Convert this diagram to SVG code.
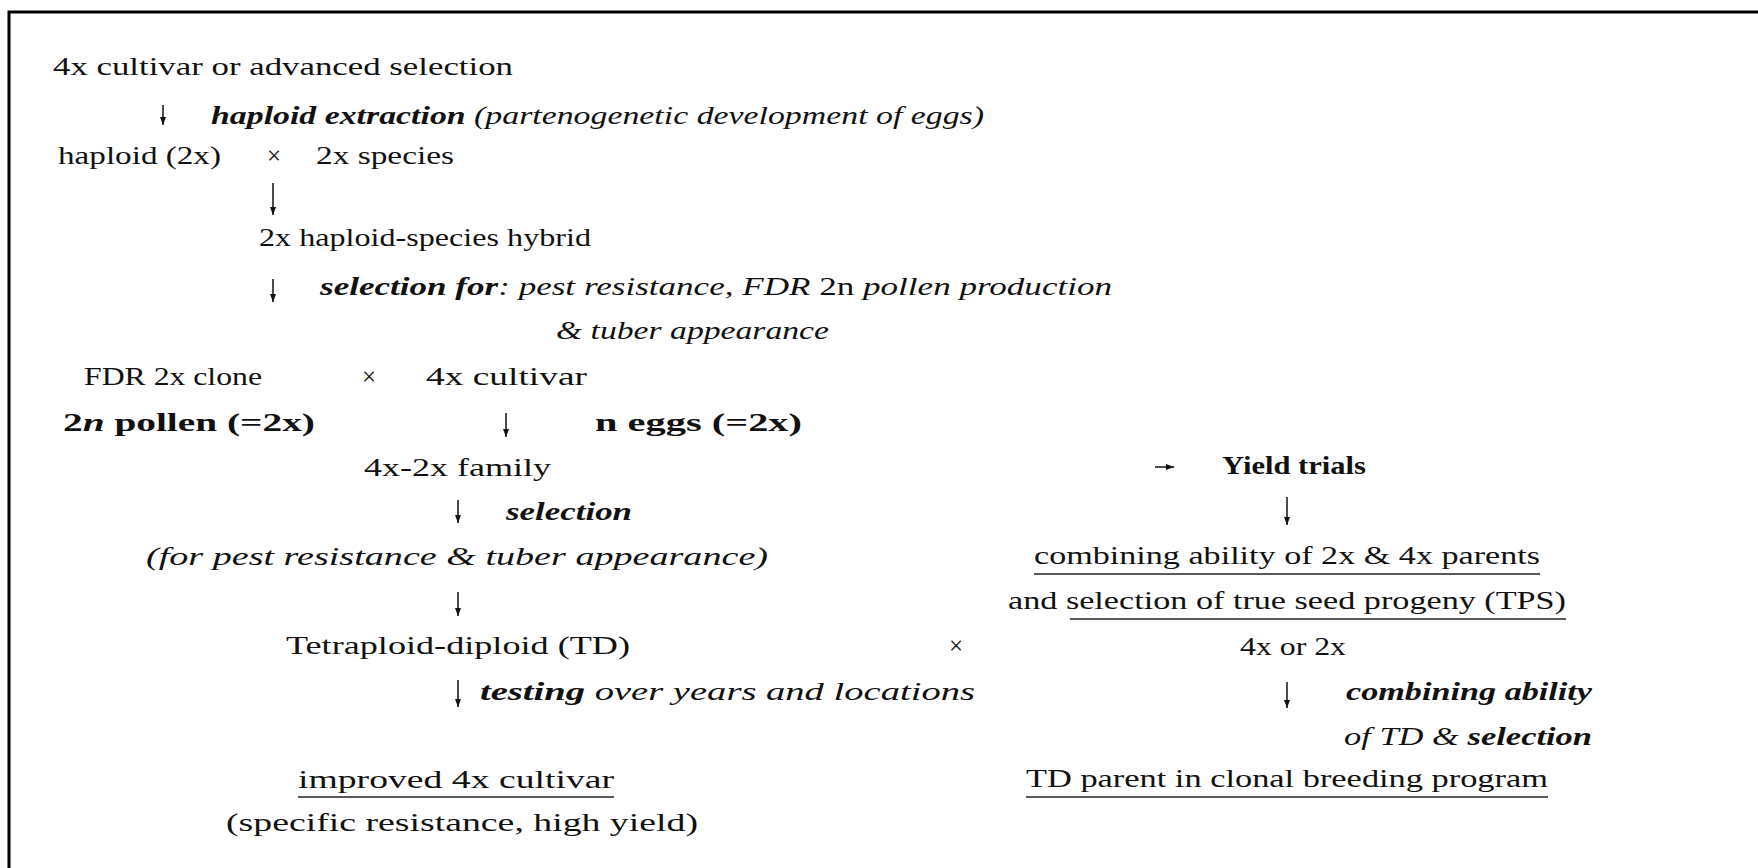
<svg xmlns="http://www.w3.org/2000/svg" width="1758" height="868" viewBox="0 0 1758 868">
<style>
text{font-family:"Liberation Serif","DejaVu Serif",serif;font-size:25px;fill:#111}
.b{font-weight:bold}
.i{font-style:italic}
.bi{font-weight:bold;font-style:italic}
.ul{stroke:#222;stroke-width:1.6}
.ar{stroke:#111;stroke-width:1.5;fill:none}
.frame{stroke:#000;stroke-width:3;fill:none}
</style>
<defs>
<marker id="ah" markerUnits="userSpaceOnUse" markerWidth="10" markerHeight="10" viewBox="0 0 10 10" refX="9" refY="5" orient="auto">
<path d="M1,2 L9,5 L1,8 Z" fill="#111"/>
</marker>
</defs>
<rect width="1758" height="868" fill="#fff"/>
<path class="frame" d="M9,868 V12 H1758"/>

<g id="n-cultivar"><text x="53" y="75" textLength="460" lengthAdjust="spacingAndGlyphs">4x cultivar or advanced selection</text></g>
<g id="l-haploid-extraction"><text x="211" y="124" textLength="773" lengthAdjust="spacingAndGlyphs"><tspan class="bi">haploid extraction</tspan><tspan class="i"> (partenogenetic development of eggs)</tspan></text></g>
<g id="n-haploid"><text x="58" y="164" textLength="163" lengthAdjust="spacingAndGlyphs">haploid (2x)</text></g>
<g id="x1"><text x="274" y="164" text-anchor="middle">×</text></g>
<g id="n-species"><text x="316" y="164" textLength="138" lengthAdjust="spacingAndGlyphs">2x species</text></g>
<g id="n-hybrid"><text x="259" y="246" textLength="332" lengthAdjust="spacingAndGlyphs">2x haploid-species hybrid</text></g>
<g id="l-selection-for"><text x="320" y="295" textLength="792" lengthAdjust="spacingAndGlyphs"><tspan class="bi">selection for</tspan><tspan class="i">: pest resistance, FDR </tspan><tspan>2n</tspan><tspan class="i"> pollen production</tspan></text>
<text class="i" x="556" y="339" textLength="273" lengthAdjust="spacingAndGlyphs">&amp; tuber appearance</text></g>
<g id="n-fdr"><text x="84" y="385" textLength="178" lengthAdjust="spacingAndGlyphs">FDR 2x clone</text>
<text class="b" x="63" y="431" textLength="252" lengthAdjust="spacingAndGlyphs"><tspan>2</tspan><tspan class="bi">n</tspan><tspan> pollen (=2x)</tspan></text></g>
<g id="x2"><text x="369" y="385" text-anchor="middle">×</text></g>
<g id="n-cultivar2"><text x="426" y="385" textLength="161" lengthAdjust="spacingAndGlyphs">4x cultivar</text>
<text class="b" x="595" y="431" textLength="207" lengthAdjust="spacingAndGlyphs">n eggs (=2x)</text></g>
<g id="n-family"><text x="364" y="476" textLength="187" lengthAdjust="spacingAndGlyphs">4x-2x family</text></g>
<g id="l-selection"><text class="bi" x="506" y="520" textLength="126" lengthAdjust="spacingAndGlyphs">selection</text>
<text class="i" x="146" y="565" textLength="622" lengthAdjust="spacingAndGlyphs">(for pest resistance &amp; tuber appearance)</text></g>
<g id="n-td"><text x="286" y="654" textLength="344" lengthAdjust="spacingAndGlyphs">Tetraploid-diploid (TD)</text></g>
<g id="x3"><text x="956" y="654" text-anchor="middle">×</text></g>
<g id="l-testing"><text x="480" y="700" textLength="495" lengthAdjust="spacingAndGlyphs"><tspan class="bi">testing</tspan><tspan class="i"> over years and locations</tspan></text></g>
<g id="n-improved"><text x="298" y="788" textLength="316" lengthAdjust="spacingAndGlyphs">improved 4x cultivar</text>
<line class="ul" x1="298" y1="797" x2="614" y2="797"/>
<text x="226" y="831" textLength="472" lengthAdjust="spacingAndGlyphs">(specific resistance, high yield)</text></g>

<g id="n-yield"><text class="b" x="1222" y="474" textLength="144" lengthAdjust="spacingAndGlyphs">Yield trials</text></g>
<g id="n-combining"><text x="1034" y="564" textLength="506" lengthAdjust="spacingAndGlyphs">combining ability of 2x &amp; 4x parents</text>
<line class="ul" x1="1034" y1="574" x2="1540" y2="574"/>
<text x="1008" y="609" textLength="558" lengthAdjust="spacingAndGlyphs">and selection of true seed progeny (TPS)</text>
<line class="ul" x1="1070" y1="619" x2="1566" y2="619"/></g>
<g id="n-4xor2x"><text x="1240" y="655" textLength="106" lengthAdjust="spacingAndGlyphs">4x or 2x</text></g>
<g id="l-combining-td"><text class="bi" x="1346" y="700" textLength="246" lengthAdjust="spacingAndGlyphs">combining ability</text>
<text x="1344" y="745" textLength="248" lengthAdjust="spacingAndGlyphs"><tspan class="i">of TD &amp; </tspan><tspan class="bi">selection</tspan></text></g>
<g id="n-tdparent"><text x="1026" y="787" textLength="522" lengthAdjust="spacingAndGlyphs">TD parent in clonal breeding program</text>
<line class="ul" x1="1026" y1="797" x2="1548" y2="797"/></g>

<g id="connectors">
<line class="ar" x1="163" y1="105" x2="163" y2="125" marker-end="url(#ah)"/>
<line class="ar" x1="273" y1="183" x2="273" y2="215" marker-end="url(#ah)"/>
<line class="ar" x1="273" y1="279" x2="273" y2="302" marker-end="url(#ah)"/>
<line class="ar" x1="506" y1="413" x2="506" y2="437" marker-end="url(#ah)"/>
<line class="ar" x1="458" y1="500" x2="458" y2="523" marker-end="url(#ah)"/>
<line class="ar" x1="458" y1="592" x2="458" y2="616" marker-end="url(#ah)"/>
<line class="ar" x1="458" y1="680" x2="458" y2="707" marker-end="url(#ah)"/>
<line class="ar" x1="1155" y1="467" x2="1174" y2="467" marker-end="url(#ah)"/>
<line class="ar" x1="1287" y1="497" x2="1287" y2="525" marker-end="url(#ah)"/>
<line class="ar" x1="1287" y1="682" x2="1287" y2="708" marker-end="url(#ah)"/>
</g>
</svg>
